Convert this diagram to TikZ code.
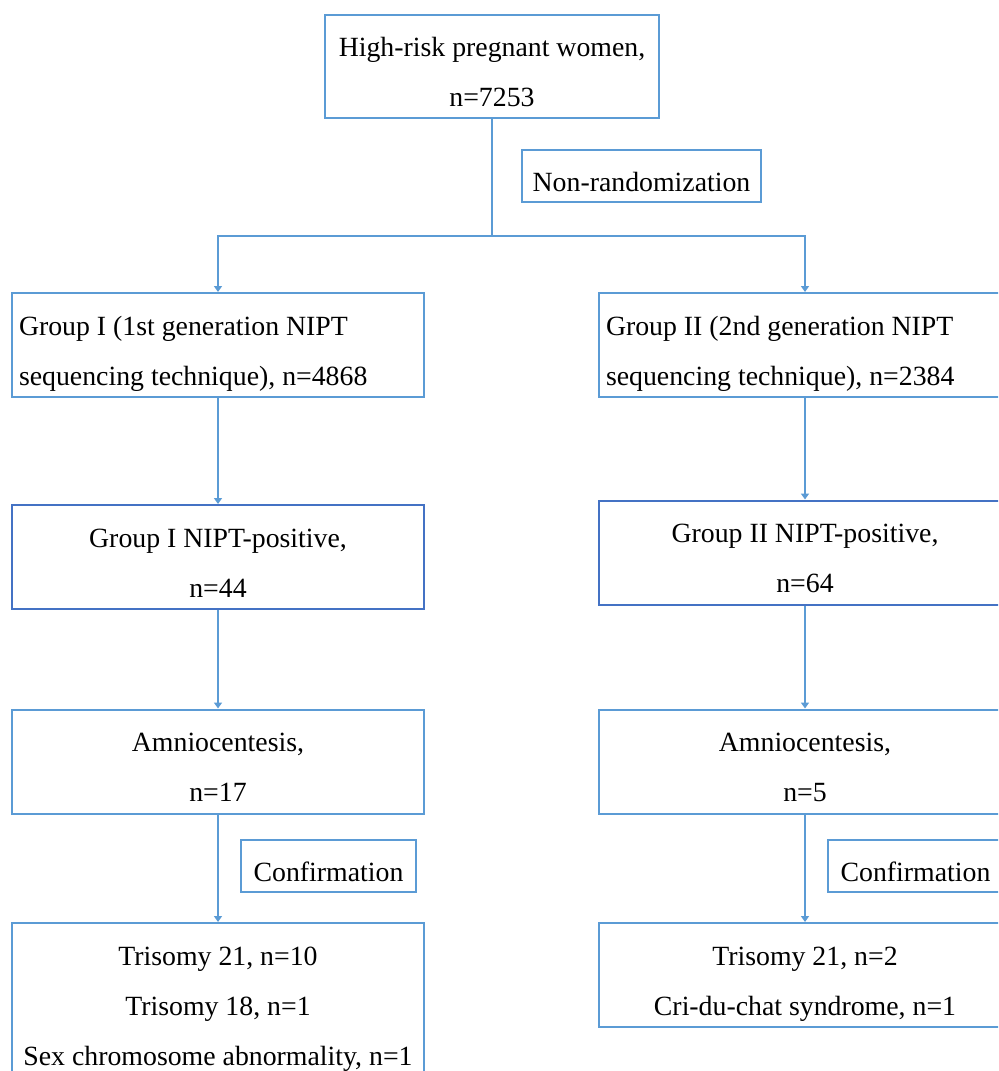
\documentclass[tikz,border=0pt]{standalone}
\usepackage{fontspec}
\setmainfont{Liberation Serif}
\usetikzlibrary{arrows.meta}
\definecolor{flowblue}{RGB}{91,155,213}
\definecolor{posblue}{RGB}{68,114,196}
% struts for first and last line of a box
\newcommand{\hi}{\rule{0pt}{19.2pt}}
\newcommand{\lo}{\rule[-4pt]{0pt}{4pt}}

\begin{document}
\begin{tikzpicture}[x=0.5pt,y=-0.5pt,
  box/.style={draw=flowblue,line width=1pt,minimum width=206pt,minimum height=52pt,
    inner ysep=1pt,align=center,font=\fontsize{13.9}{25}\selectfont},
  leftbox/.style={box,text width=199pt,inner xsep=3.5pt,align=flush left},
  smallbox/.style={box,minimum height=26pt},
  link/.style={draw=flowblue,line width=1pt},
  flow/.style={link,-{Triangle[width=4pt,length=3pt]}}]

\path[use as bounding box,clip] (0,0) rectangle (998,1071);

% top part
\node[box,minimum width=167pt,minimum height=51.5pt] (women) at (492,66.5) {\hi High-risk pregnant women,\\n=7253\lo};
\node[smallbox,minimum width=119.5pt] (nonrand) at (641.5,176) {\hi Non-randomization\lo};
\coordinate (split) at (492,236);

% the two groups
\node[leftbox] (groupone) at (218,345) {\hi Group I (1st generation NIPT\\sequencing technique), n=4868\lo};
\node[leftbox] (grouptwo) at (805,345) {\hi Group II (2nd generation NIPT\\sequencing technique), n=2384\lo};

\node[box,draw=posblue] (posone) at (218,557) {\hi Group I NIPT-positive,\\n=44\lo};
\node[box,draw=posblue] (postwo) at (805,552.5) {\hi Group II NIPT-positive,\\n=64\lo};

\node[box] (amnioone) at (218,761.5) {\hi Amniocentesis,\\n=17\lo};
\node[box] (amniotwo) at (805,761.5) {\hi Amniocentesis,\\n=5\lo};

\node[smallbox,minimum width=87.5pt] (confone) at (328.5,866) {\hi Confirmation\lo};
\node[smallbox,minimum width=87.5pt] (conftwo) at (915.5,866) {\hi Confirmation\lo};

\node[box,anchor=north,minimum height=77pt] (resone) at (218,922) {\hi Trisomy 21, n=10\\Trisomy 18, n=1\\Sex chromosome abnormality, n=1\lo};
\node[box,anchor=north] (restwo) at (805,922) {\hi Trisomy 21, n=2\\Cri-du-chat syndrome, n=1\lo};

% connectors
\draw[link] (women.south) -- (split);
\draw[flow] (split) -| (groupone.north);
\draw[flow] (split) -| (grouptwo.north);

\draw[flow] (groupone) -- (posone);
\draw[flow] (grouptwo) -- (postwo);
\draw[flow] (posone) -- (amnioone);
\draw[flow] (postwo) -- (amniotwo);
\draw[flow] (amnioone) -- (resone);
\draw[flow] (amniotwo) -- (restwo);

\end{tikzpicture}
\end{document}
